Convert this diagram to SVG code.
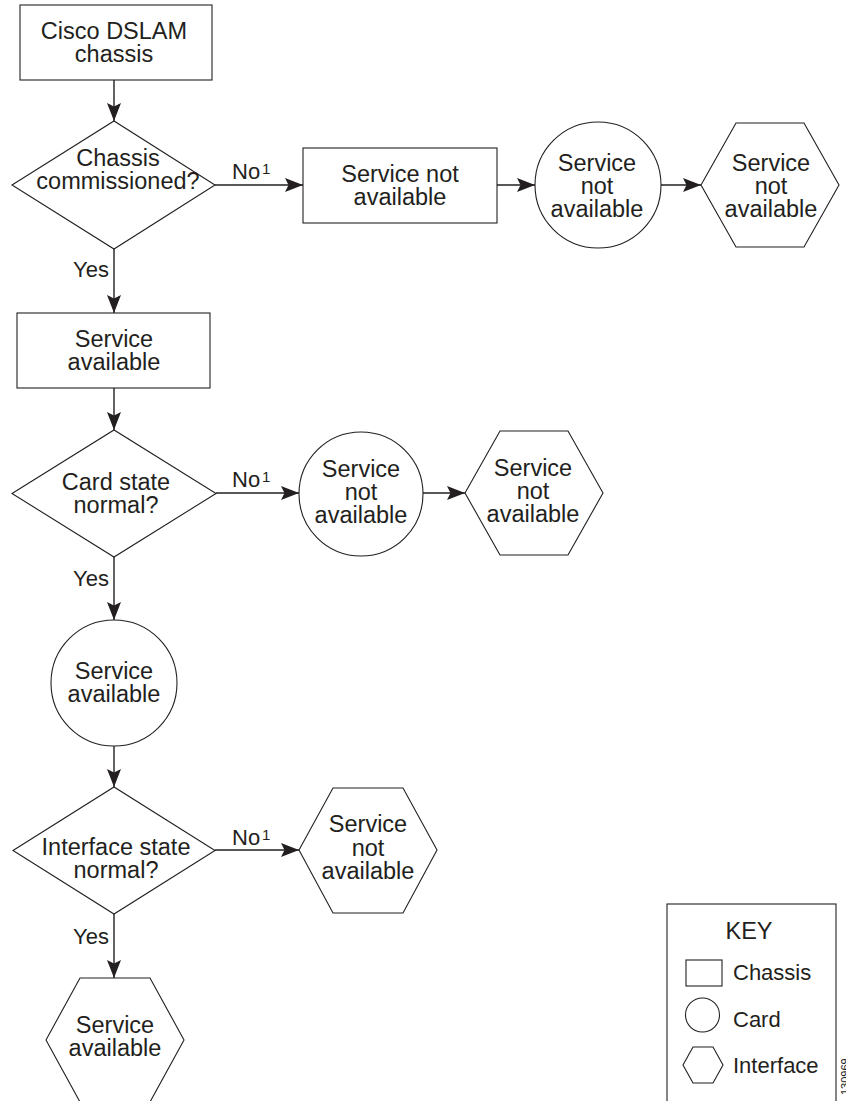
<svg xmlns="http://www.w3.org/2000/svg" width="846" height="1101" viewBox="0 0 846 1101">
<style>
.s{fill:#fff;stroke:#231f20;stroke-width:1.1}
.t{font-family:"Liberation Sans",Arial,Helvetica,sans-serif;font-size:23.5px;fill:#231f20;text-anchor:middle}
.l{font-family:"Liberation Sans",Arial,Helvetica,sans-serif;font-size:22px;fill:#231f20}
.sup{font-family:"Liberation Sans",Arial,Helvetica,sans-serif;font-size:15px;fill:#231f20}
.c{fill:none;stroke:#231f20;stroke-width:1.4;marker-end:url(#ah)}
</style>
<defs>
<marker id="ah" viewBox="0 0 18 14" refX="18" refY="7" markerWidth="18" markerHeight="14" orient="auto" markerUnits="userSpaceOnUse">
<path d="M0,0 L18,7 L0,14 L3.5,7 z" fill="#231f20"/>
</marker>
</defs>
<rect width="846" height="1101" fill="#fff"/>

<g id="connectors">
<line class="c" x1="114" y1="80" x2="114" y2="121"/>
<line class="c" x1="215" y1="185" x2="303" y2="185"/>
<line class="c" x1="497" y1="185" x2="535" y2="185"/>
<line class="c" x1="661" y1="185" x2="701" y2="185"/>
<line class="c" x1="114" y1="249" x2="114" y2="313"/>
<line class="c" x1="114" y1="388" x2="114" y2="430"/>
<line class="c" x1="216" y1="493" x2="299" y2="493"/>
<line class="c" x1="423" y1="493" x2="465" y2="493"/>
<line class="c" x1="114" y1="557" x2="114" y2="620"/>
<line class="c" x1="114" y1="746" x2="114" y2="787"/>
<line class="c" x1="215" y1="850" x2="299" y2="850"/>
<line class="c" x1="114" y1="914" x2="114" y2="978"/>
<text class="l" x="232" y="179">No</text><text class="sup" x="262" y="174">1</text>
<text class="l" x="232" y="487">No</text><text class="sup" x="262" y="482">1</text>
<text class="l" x="232" y="845">No</text><text class="sup" x="262" y="840">1</text>
<text class="l" x="109" y="277" text-anchor="end">Yes</text>
<text class="l" x="109" y="586" text-anchor="end">Yes</text>
<text class="l" x="109" y="944" text-anchor="end">Yes</text>
</g>

<g id="chassis">
<rect class="s" x="20" y="5" width="192" height="75"/>
<text class="t" x="114" y="39">Cisco DSLAM</text>
<text class="t" x="114" y="62">chassis</text>
</g>

<g id="chassis-commissioned">
<polygon class="s" points="12,185 114,121 215,185 114,249"/>
<text class="t" x="118" y="166">Chassis</text>
<text class="t" x="118" y="189">commissioned?</text>
</g>

<g id="chassis-not-available">
<rect class="s" x="303" y="148" width="194" height="75"/>
<text class="t" x="400" y="182">Service not</text>
<text class="t" x="400" y="205">available</text>
</g>

<g id="card-not-available-1">
<circle class="s" cx="598" cy="185" r="63"/>
<text class="t" x="597" y="171">Service</text>
<text class="t" x="597" y="194">not</text>
<text class="t" x="597" y="217">available</text>
</g>

<g id="interface-not-available-1">
<polygon class="s" points="701,185 736,123 804,123 839,185 804,247 736,247"/>
<text class="t" x="771" y="171">Service</text>
<text class="t" x="771" y="194">not</text>
<text class="t" x="771" y="217">available</text>
</g>

<g id="chassis-available">
<rect class="s" x="17" y="313" width="193" height="75"/>
<text class="t" x="114" y="347">Service</text>
<text class="t" x="114" y="370">available</text>
</g>

<g id="card-state-normal">
<polygon class="s" points="12,493.5 114,430 216,493.5 114,557"/>
<text class="t" x="116" y="490">Card state</text>
<text class="t" x="116" y="513">normal?</text>
</g>

<g id="card-not-available-2">
<circle class="s" cx="361" cy="494" r="62"/>
<text class="t" x="361" y="477">Service</text>
<text class="t" x="361" y="500">not</text>
<text class="t" x="361" y="523">available</text>
</g>

<g id="interface-not-available-2">
<polygon class="s" points="465,493 500,431 568,431 603,493 568,555 500,555"/>
<text class="t" x="533" y="476">Service</text>
<text class="t" x="533" y="499">not</text>
<text class="t" x="533" y="522">available</text>
</g>

<g id="card-available">
<circle class="s" cx="114" cy="683" r="63"/>
<text class="t" x="114" y="679">Service</text>
<text class="t" x="114" y="702">available</text>
</g>

<g id="interface-state-normal">
<polygon class="s" points="13,850.5 114,787 215,850.5 114,914"/>
<text class="t" x="116" y="855">Interface state</text>
<text class="t" x="116" y="878">normal?</text>
</g>

<g id="interface-not-available-3">
<polygon class="s" points="299,850 333,788 403,788 437,850 403,913 333,913"/>
<text class="t" x="368" y="832">Service</text>
<text class="t" x="368" y="856">not</text>
<text class="t" x="368" y="879">available</text>
</g>

<g id="interface-available">
<polygon class="s" points="46,1040 80,978 150,978 184,1040 150,1102 80,1102"/>
<text class="t" x="115" y="1033">Service</text>
<text class="t" x="115" y="1056">available</text>
</g>

<g id="key">
<rect class="s" x="667" y="904" width="169" height="210"/>
<text class="t" x="749" y="939">KEY</text>
<rect class="s" x="686" y="960" width="36" height="26"/>
<text class="l" x="733" y="980">Chassis</text>
<circle class="s" cx="702.5" cy="1015" r="17"/>
<text class="l" x="733" y="1027">Card</text>
<polygon class="s" points="683,1065 693,1047 713,1047 723,1065 713,1083 693,1083"/>
<text class="l" x="733" y="1073">Interface</text>
</g>

<text transform="translate(849,1095) rotate(-90)" font-family="'Liberation Sans',Arial,sans-serif" font-size="11" fill="#231f20">130969</text>
</svg>
